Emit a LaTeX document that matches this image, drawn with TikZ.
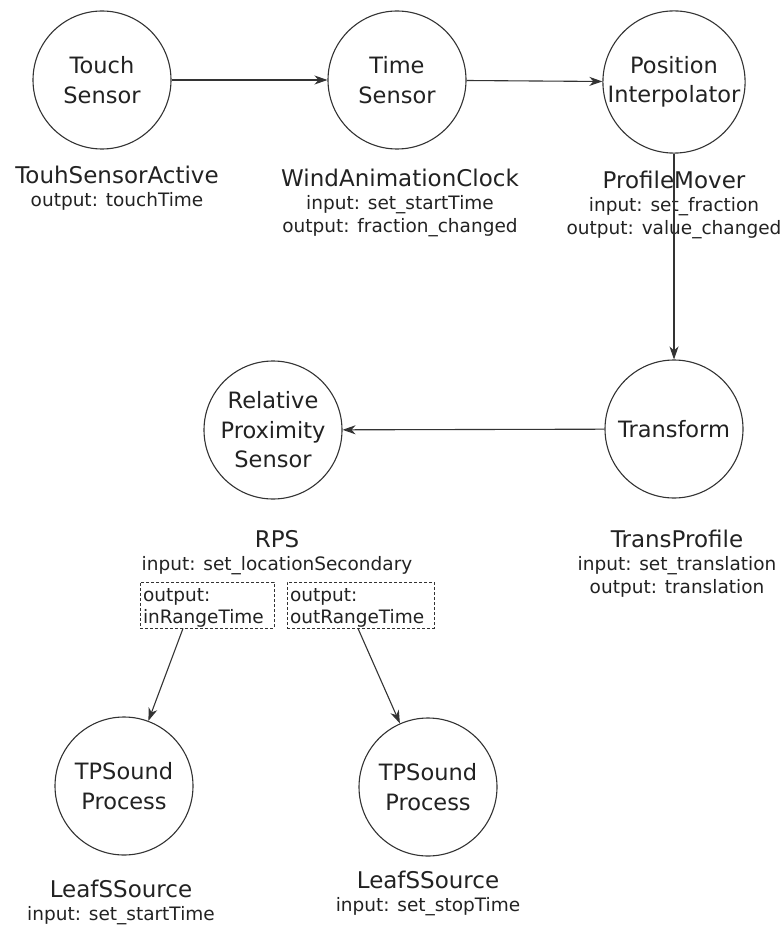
\documentclass[tikz,border=0pt]{standalone}
\usepackage{fontspec}
\setmainfont{DejaVu Sans}
\usetikzlibrary{arrows.meta}
\definecolor{ink}{HTML}{222222}
\definecolor{edge}{HTML}{333333}
\newcommand\bigname[1]{{\fontsize{23}{23}\selectfont #1}}
\begin{document}
\begin{tikzpicture}[x=1pt,y=-1pt,
  proc/.style={circle,draw=edge,line width=1.1pt,minimum size=138pt,inner sep=0pt,
    align=center,text=ink,font=\fontsize{22.5}{29.5}\selectfont},
  % base anchor sits on the last line of a block
  info/.style={align=center,inner sep=0pt,anchor=base,text=ink,
    font=\fontsize{18.5}{23}\selectfont},
  portbox/.style={draw=edge,dash pattern=on 3pt off 2pt,line width=0.9pt,
    inner xsep=3pt,inner ysep=0.3pt,minimum height=46pt,align=left,text=ink,
    font=\fontsize{18.5}{22}\selectfont},
  arr/.style={draw=edge,line width=1.1pt,-{Stealth[length=13pt,width=9pt,inset=4pt]}}
]
\useasboundingbox (0,0) rectangle (782,925);

% processing nodes
\node[proc] (touch) at (102,80)  {Touch\\Sensor};
\node[proc] (time)  at (397,80)  {Time\\Sensor};
\node[proc] (pos)   at (674,82)  {Position\\Interpolator};
\node[proc] (trans) at (674,429) {Transform};
\node[proc] (rps)   at (273,430) {Relative\\Proximity\\Sensor};
\node[proc] (snd1)  at (124,786) {TPSound\\Process};
\node[proc] (snd2)  at (428,787) {TPSound\\Process};

% instance names and fields
\node[info] (touchinfo) at (117,207) {\bigname{TouhSensorActive}\\output: touchTime};
\node[info] (timeinfo)  at (400,233) {\bigname{WindAnimationClock}\\input: set\_startTime\\output: fraction\_changed};
\node[info] (posinfo)   at (674,234) {\bigname{ProfileMover}\\input: set\_fraction\\output: value\_changed};
\node[info] (transinfo) at (677,593) {\bigname{TransProfile}\\input: set\_translation\\output: translation};
\node[info] (rpsinfo)   at (277,570) {\bigname{RPS}\\input: set\_locationSecondary};
\node[info] (snd1info)  at (121,920) {\bigname{LeafSSource}\\input: set\_startTime};
\node[info] (snd2info)  at (428,911) {\bigname{LeafSSource}\\input: set\_stopTime};

% output ports of the proximity sensor
\node[portbox,text width=128pt] (inport)  at (207,605)   {\rule{0pt}{19pt}output:\\inRangeTime};
\node[portbox,text width=141pt] (outport) at (360.5,605) {\rule{0pt}{19pt}output:\\outRangeTime};
\path (inport.south) ++(-24,0) coordinate (inout);
\path (outport.south) ++(-2.5,0) coordinate (outout);

% routes
\draw[arr] (touch) -- (time);
\draw[arr] (time) -- (pos);
\draw[arr] (pos) -- (trans);
\draw[arr] (trans) -- (rps);
\draw[arr] (inout) -- (snd1);
\draw[arr] (outout) -- (snd2);
\end{tikzpicture}
\end{document}
